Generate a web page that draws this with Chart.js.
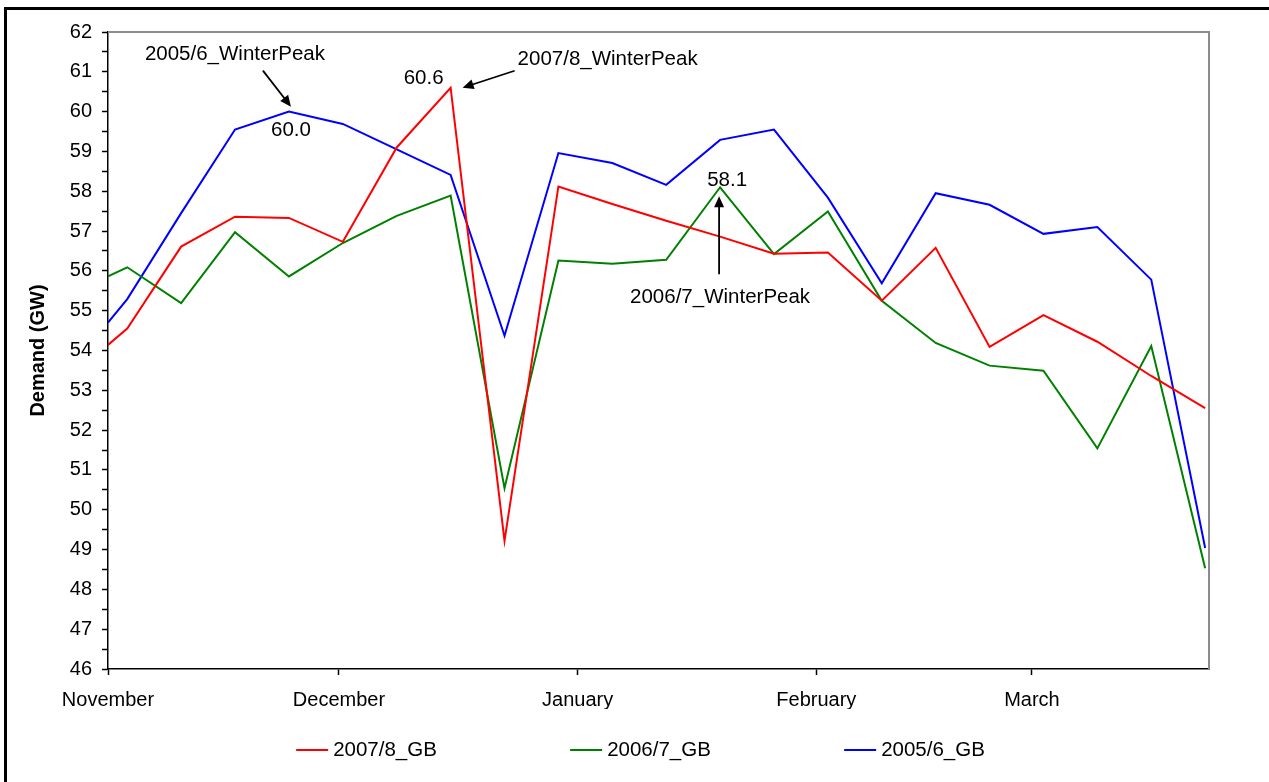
<!DOCTYPE html>
<html>
<head>
<meta charset="utf-8">
<title>GB winter demand</title>
<script src="https://cdn.jsdelivr.net/npm/chart.js@4.4.0/dist/chart.umd.min.js"></script>
<style>
  html, body { margin: 0; padding: 0; background: #fff; overflow: hidden; }
  #wrap { position: relative; width: 1269px; height: 782px; overflow: hidden; }
  #frame { position: absolute; left: 4px; top: 7px; width: 1300px; height: 800px; border-left: 3px solid #000; border-top: 3px solid #000; }
  canvas { position: absolute; left: 0; top: 0; }
</style>
</head>
<body>
<div id="wrap">
  <div id="frame"></div>
  <canvas id="chart" width="1269" height="782"></canvas>
</div>
<script>
const FONT = '"Liberation Sans", Arial, sans-serif';

// days counted from 1 November
const dayOffsets = [0, 2.5, 9.5, 16.5, 23.5, 30.5, 37.5, 44.5, 51.5, 58.5, 65.5,
                    72.5, 79.5, 86.5, 93.5, 100.5, 107.5, 114.5, 121.5, 128.5, 135.5, 142.5];
const monthStarts = [0, 30, 61, 92, 120];
const monthNames = ['November', 'December', 'January', 'February', 'March'];

const seriesNames = ['2007/8_GB', '2006/7_GB', '2005/6_GB'];
const seriesColors = ['#ff0000', '#008000', '#0000ff'];

const demand0708 = [54.14, 54.55, 56.61, 57.36, 57.33, 56.73, 59.1, 60.6, 49.22, 58.12, 57.68,
                    57.26, 56.86, 56.43, 56.46, 55.25, 56.58, 54.09, 54.89, 54.22, 53.36, 52.55];
const demand0607 = [55.86, 56.09, 55.19, 56.97, 55.86, 56.70, 57.38, 57.89, 50.54, 56.26, 56.18,
                    56.28, 58.1, 56.42, 57.49, 55.25, 54.19, 53.62, 53.49, 51.54, 54.11, 48.53];
const demand0506 = [54.70, 55.29, 57.45, 59.55, 60.0, 59.69, 59.05, 58.41, 54.37, 58.96, 58.71,
                    58.16, 59.29, 59.55, 57.84, 55.69, 57.95, 57.66, 56.93, 57.10, 55.78, 49.04];

// peaks that get a callout: dataset index, point index, texts
const peakNotes = [
  { series: 2, index: 4, value: '60.0', label: '2005/6_WinterPeak' },
  { series: 0, index: 7, value: '60.6', label: '2007/8_WinterPeak' },
  { series: 1, index: 12, value: '58.1', label: '2006/7_WinterPeak' }
];
// where the callout texts/arrows sit relative to the peak (px)
const calloutLayout = [
  { vdx: 2, vdy: 19, valign: 'center', ldx: -54, ldy: -57, lalign: 'center', arrow: [-26, -41, 2, -5] },
  { vdx: -7, vdy: -9, valign: 'right', ldx: 67, ldy: -28, lalign: 'left', arrow: [64, -17, 12, 0] },
  { vdx: 7, vdy: -7, valign: 'center', ldx: 0, ldy: 110, lalign: 'center', arrow: [-1, 87, -1, 9] }
];

function drawArrow(ctx, x1, y1, x2, y2) {
  const a = Math.atan2(y2 - y1, x2 - x1);
  const len = 11, half = 5;
  const c = Math.cos(a), s = Math.sin(a);
  ctx.lineWidth = 1.8;
  ctx.beginPath();
  ctx.moveTo(x1, y1);
  ctx.lineTo(x2 - c * len * 0.8, y2 - s * len * 0.8);
  ctx.stroke();
  ctx.beginPath();
  ctx.moveTo(x2, y2);
  ctx.lineTo(x2 - c * len + s * half, y2 - s * len - c * half);
  ctx.lineTo(x2 - c * len - s * half, y2 - s * len + c * half);
  ctx.closePath();
  ctx.fill();
}

const plotFrame = {
  id: 'plotFrame',
  beforeDatasetsDraw(chart) {
    const { ctx, chartArea: a } = chart;
    ctx.save();
    ctx.strokeStyle = '#8c8c8c';
    ctx.lineWidth = 2;
    ctx.beginPath();
    ctx.moveTo(a.left, a.top);
    ctx.lineTo(a.right, a.top);
    ctx.lineTo(a.right, a.bottom);
    ctx.stroke();
    ctx.restore();
  }
};

const callouts = {
  id: 'callouts',
  afterDatasetsDraw(chart) {
    const ctx = chart.ctx;
    const xs = chart.scales.x, ys = chart.scales.y;
    ctx.save();
    ctx.font = '20.5px ' + FONT;
    ctx.fillStyle = '#000';
    ctx.strokeStyle = '#000';
    ctx.textBaseline = 'middle';
    peakNotes.forEach((note, i) => {
      const lay = calloutLayout[i];
      const pt = chart.data.datasets[note.series].data[note.index];
      const px = xs.getPixelForValue(pt.x);
      const py = ys.getPixelForValue(pt.y);
      ctx.textAlign = lay.valign;
      ctx.fillText(note.value, px + lay.vdx, py + lay.vdy);
      ctx.textAlign = lay.lalign;
      ctx.fillText(note.label, px + lay.ldx, py + lay.ldy);
      const ar = lay.arrow;
      drawArrow(ctx, px + ar[0], py + ar[1], px + ar[2], py + ar[3]);
    });
    ctx.restore();
  }
};

const lineLegend = {
  id: 'lineLegend',
  afterDraw(chart) {
    const ctx = chart.ctx;
    const pitch = 274, cy = 750, swatch = 32, gap = 5;
    const cx = chart.width / 2 + 6;
    ctx.save();
    ctx.font = '20.5px ' + FONT;
    ctx.textBaseline = 'middle';
    ctx.textAlign = 'left';
    chart.data.datasets.forEach((ds, i) => {
      const w = swatch + gap + ctx.measureText(ds.label).width;
      const left = cx + (i - 1) * pitch - w / 2;
      ctx.strokeStyle = ds.borderColor;
      ctx.lineWidth = 2;
      ctx.beginPath();
      ctx.moveTo(left, cy);
      ctx.lineTo(left + swatch, cy);
      ctx.stroke();
      ctx.fillStyle = '#000';
      ctx.fillText(ds.label, left + swatch + gap, cy);
    });
    ctx.restore();
  }
};

const seriesValues = [demand0708, demand0607, demand0506];
const datasets = seriesValues.map((vals, i) => ({
  label: seriesNames[i],
  data: dayOffsets.map((d, j) => ({ x: d, y: vals[j] })),
  borderColor: seriesColors[i],
  backgroundColor: seriesColors[i],
  borderWidth: 2,
  pointRadius: 0,
  tension: 0,
  fill: false
}));

const tickFont = { family: FONT, size: 20 };

new Chart(document.getElementById('chart'), {
  type: 'line',
  data: { datasets },
  plugins: [plotFrame, callouts, lineLegend],
  options: {
    responsive: false,
    animation: false,
    devicePixelRatio: 1,
    layout: { padding: { left: 8, top: 32, right: 60, bottom: 73 } },
    plugins: { legend: { display: false }, tooltip: { enabled: false } },
    scales: {
      x: {
        type: 'linear',
        min: 0,
        max: 143,
        afterBuildTicks: s => { s.ticks = monthStarts.map(v => ({ value: v })); },
        afterFit: s => { s.height = 40; },
        ticks: {
          autoSkip: false, maxRotation: 0, padding: 13, color: '#000', font: tickFont,
          callback: v => monthNames[monthStarts.indexOf(v)]
        },
        grid: { drawOnChartArea: false, drawTicks: true, tickLength: 6, tickColor: '#000', tickWidth: 1.5 },
        border: { display: true, color: '#000', width: 1.5 }
      },
      y: {
        min: 46,
        max: 62,
        afterFit: s => { s.width = 100; },
        ticks: {
          stepSize: 0.5, autoSkip: false, padding: 10, color: '#000', font: tickFont,
          callback: v => Number.isInteger(v) ? v : ''
        },
        grid: { drawOnChartArea: false, drawTicks: true, tickLength: 6, tickColor: '#000', tickWidth: 1.5 },
        border: { display: true, color: '#000', width: 1.5 },
        title: {
          display: true, text: 'Demand (GW)', color: '#000',
          font: { family: FONT, size: 20, weight: 'bold' },
          padding: { top: 18, bottom: 0 }
        }
      }
    }
  }
});
</script>
</body>
</html>
